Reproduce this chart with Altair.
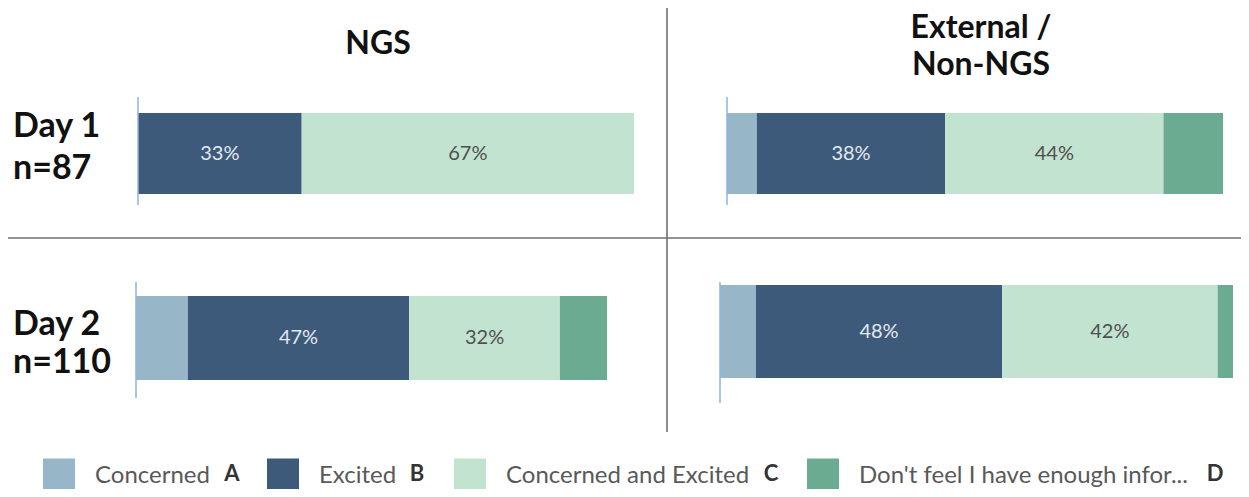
import altair as alt
import pandas as pd

# ---- data ----
categories = ["Concerned", "Excited", "Concerned and Excited", "Don't feel I have enough infor..."]
letters = ["A", "B", "C", "D"]
groups = ["NGS", "External / Non-NGS"]
days = ["Day 1", "Day 2"]
col_labels = ["NGS", "External /\nNon-NGS"]
row_labels = ["Day 1\nn=87", "Day 2\nn=110"]
ngs_day1 = [0, 33, 67, 0]
ngs_day2 = [11, 47, 32, 10]
ext_day1 = [6, 38, 44, 12]
ext_day2 = [7, 48, 42, 3]

colors = ["#97b6c8", "#3d5a7a", "#c2e3d0", "#6aab92"]


def table(group, day, values):
    return pd.DataFrame({
        "group": group, "day": day, "category": categories,
        "letter": letters, "order": list(range(len(categories))), "value": values,
    })


df = pd.concat([
    table(groups[0], days[0], ngs_day1),
    table(groups[1], days[0], ext_day1),
    table(groups[0], days[1], ngs_day2),
    table(groups[1], days[1], ext_day2),
], ignore_index=True)

# ---- layout (pixels, chart coordinates) ----
W, H = 1233, 481
panel_layout = {
    (groups[0], days[0]): dict(x=(130, 626), bar=(105, 186), axis=(89, 197)),
    (groups[1], days[0]): dict(x=(719, 1215), bar=(105, 186), axis=(89, 197)),
    (groups[0], days[1]): dict(x=(128, 599), bar=(288, 372), axis=(274, 390)),
    (groups[1], days[1]): dict(x=(712, 1225), bar=(277, 370), axis=(274, 395)),
}

FONT = "Lato"
color_scale = alt.Scale(domain=categories, range=colors)
legend = alt.Legend(
    orient="none", legendX=35, legendY=452, direction="horizontal", title=None,
    symbolType="M-1,-1.1H1V2H-1Z", symbolSize=1024, symbolStrokeWidth=0,
    symbolOpacity=1, labelFont=FONT, labelFontSize=24, labelColor="#595959",
    labelOffset=20, columnPadding=57, labelLimit=0,
)

layers = []
first = True
for (g, d), lay in panel_layout.items():
    xscale = alt.Scale(domain=[0, 100], range=list(lay["x"]))
    yscale = alt.Scale(domain=[d], range=list(lay["bar"]), paddingInner=0, paddingOuter=0)
    base = (
        alt.Chart(df)
        .transform_filter((alt.datum.group == g) & (alt.datum.day == d))
        .transform_window(cum="sum(value)", sort=[alt.SortField("order")], frame=[None, 0])
        .transform_calculate(start="datum.cum - datum.value",
                             mid="datum.cum - datum.value / 2",
                             label="datum.value + '%'")
    )
    bars = base.mark_bar().encode(
        x=alt.X("start:Q", scale=xscale, axis=None),
        x2="cum:Q",
        y=alt.Y("day:N", scale=yscale, axis=None),
        color=alt.Color("category:N", scale=color_scale, sort=categories,
                        legend=legend if first else None),
    )
    first = False
    text = base.transform_filter("datum.value >= 20").mark_text(
        font=FONT, fontSize=20
    ).encode(
        x=alt.X("mid:Q", scale=xscale, axis=None),
        y=alt.Y("day:N", scale=yscale, axis=None),
        text="label:N",
        color=alt.condition("datum.category == 'Excited'", alt.value("#e3e9f0"), alt.value("#4f4f4f")),
    )
    rule = alt.Chart(pd.DataFrame({"k": [0]})).mark_rule(color="#8db4e0", strokeWidth=1.5).encode(
        x=alt.XDatum(0, scale=xscale, axis=None),
        y=alt.value(lay["axis"][0]),
        y2=alt.value(lay["axis"][1]),
    )
    layers += [bars, text, rule]

one = alt.Chart(pd.DataFrame({"k": [0]}))

# dividers
vline = one.mark_rule(color="#6f6f6f", strokeWidth=1.6).encode(
    x=alt.value(659), y=alt.value(0), y2=alt.value(424))
hline = one.mark_rule(color="#6f6f6f", strokeWidth=1.6).encode(
    x=alt.value(0), x2=alt.value(W), y=alt.value(230))

# column headers
hdr1 = alt.Chart(pd.DataFrame({"t": [col_labels[0]]})).mark_text(
    font=FONT, fontSize=32, fontWeight="bold", color="#111111", align="center", baseline="alphabetic"
).encode(text="t:N", x=alt.value(370), y=alt.value(46))
hdr2 = alt.Chart(pd.DataFrame({"t": [col_labels[1]]})).mark_text(
    font=FONT, fontSize=32, fontWeight="bold", color="#111111", align="center", baseline="alphabetic",
    lineBreak="\n", lineHeight=37,
).encode(text="t:N", x=alt.value(973), y=alt.value(30))

# row labels
row1 = alt.Chart(pd.DataFrame({"t": [row_labels[0]]})).mark_text(
    font=FONT, fontSize=34, fontWeight="bold", color="#111111", align="left", baseline="alphabetic",
    lineBreak="\n", lineHeight=42,
).encode(text="t:N", x=alt.value(5), y=alt.value(129))
row2 = alt.Chart(pd.DataFrame({"t": [row_labels[1]]})).mark_text(
    font=FONT, fontSize=34, fontWeight="bold", color="#111111", align="left", baseline="alphabetic",
    lineBreak="\n", lineHeight=38,
).encode(text="t:N", x=alt.value(5), y=alt.value(327))

# bold letters after legend labels
letter_x = [224, 409, 763, 1207]
letter_layers = []
for L, lx in zip(letters, letter_x):
    letter_layers.append(
        alt.Chart(pd.DataFrame({"t": [L]})).mark_text(
            font=FONT, fontSize=22, fontWeight="bold", color="#333333", align="center", baseline="middle"
        ).encode(text="t:N", x=alt.value(lx), y=alt.value(466))
    )

chart = alt.layer(
    *layers, vline, hline, hdr1, hdr2, row1, row2, *letter_layers
).resolve_scale(
    x="independent", y="independent"
).properties(
    width=W, height=H, padding=0, autosize=alt.AutoSizeParams(type="none")
).configure_view(stroke=None)

chart.save("out.html", embed_options={"renderer": "svg", "actions": False})
